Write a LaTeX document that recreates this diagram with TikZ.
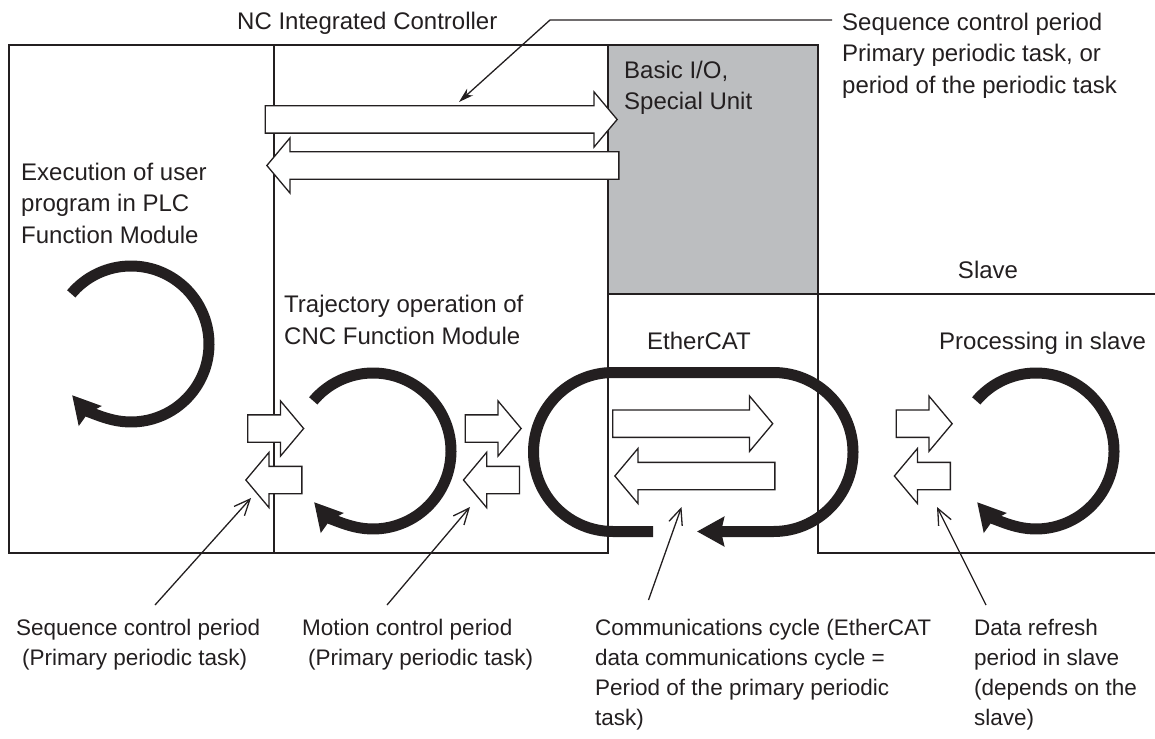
\documentclass[tikz,border=0pt]{standalone}
\usepackage{fontspec}
\setmainfont{Liberation Sans}
\usepackage{tikz}
\usetikzlibrary{arrows.meta,shapes.arrows,calc}
\definecolor{ink}{HTML}{231F20}
\definecolor{unitgray}{HTML}{BCBEC0}

\begin{document}
\begin{tikzpicture}[
  x=1pt,y=1pt,
  frame/.style={draw=ink,line width=1.8pt},
  blk/.style={single arrow,draw=ink,fill=white,line width=1.3pt,inner sep=0pt,text height=26pt,text depth=0pt,
    single arrow head extend=14pt,single arrow tip angle=100,single arrow head indent=0pt,anchor=tip},
  blkL/.style={blk,shape border rotate=180},
  cyc/.style={draw=ink,line width=11pt,-{Stealth[length=27pt,width=29pt,inset=3pt]}},
  lead/.style={draw=ink,line width=1.3pt,-{Straight Barb[length=16pt,width=14pt]}},
  leadf/.style={draw=ink,line width=1.3pt,-{Stealth[length=15pt,width=9pt]}},
  lbl/.style={align=left,inner sep=0pt,text=ink,font=\fontsize{24}{31.5}\selectfont},
  note/.style={lbl,font=\fontsize{22.5}{30}\selectfont}
]
\useasboundingbox (0,0) rectangle (1155,-738);
% controller frame
\fill[unitgray] (608,-45) rectangle (818,-294);
\draw[frame] (9,-45) rectangle (608,-553);
\draw[frame] (274,-45) -- (274,-553);
\draw[frame] (608,-45) rectangle (818,-294);
% EtherCAT and slave
\draw[frame] (608,-294) -- (1155,-294);
\draw[frame] (818,-294) -- (818,-553) -- (1155,-553);

% data exchange arrows
\node[blk,minimum height=352pt] (a1) at (618,-119.5) {};
\node[blkL,minimum height=352pt] (a2) at (266,-165.5) {};
\node[blk,minimum height=160pt] (d1) at (773.6,-423.7) {};
\node[blkL,minimum height=160pt] (d2) at (614,-476) {};
\foreach \n/\tx/\ty in {b1/304.5/-428.5,c1/522/-428.5,e1/953/-423.7}
  \node[blk,minimum height=56pt] (\n) at (\tx,\ty) {};
\foreach \n/\tx/\ty in {b2/245/-480,c2/462.6/-480,e2/893.5/-476}
  \node[blkL,minimum height=56pt] (\n) at (\tx,\ty) {};

% cycles
\coordinate (plc) at (131,-344);
\coordinate (cnc) at (373,-451);
\coordinate (slv) at (1036,-451);
\foreach \c in {plc,cnc,slv}
  \draw[cyc] ($(\c)+(140:78)$) arc[start angle=140,end angle=-139,radius=78];
\draw[cyc] (653,-531.5) -- (613,-531.5) arc[start angle=270,end angle=90,radius=79.5]
  -- (773.5,-372.5) arc[start angle=90,end angle=-90,radius=79.5] -- (697,-531.5);

% labels (base = last line)
\node[lbl,anchor=base west] (nc) at (237,-30) {NC Integrated Controller};
\node[lbl,anchor=base west] (seqtop) at (842,-93.5) {Sequence control period\\Primary periodic task, or\\period of the periodic task};
\node[lbl,anchor=base west] (bio) at (624,-110) {Basic I/O,\\Special Unit};
\node[lbl,anchor=base] (slave) at (988,-278) {Slave};
\node[lbl,anchor=base west] (exe) at (21,-243) {Execution of user\\program in PLC\\Function Module};
\node[lbl,anchor=base west] (traj) at (284,-344) {Trajectory operation of\\CNC Function Module};
\node[lbl,anchor=base] (ecat) at (699,-349) {EtherCAT};
\node[lbl,anchor=base west] (proc) at (939,-349) {Processing in slave};
\node[note,anchor=base west] (lseq) at (16,-665) {Sequence control period\\\hspace*{6pt}(Primary periodic task)};
\node[note,anchor=base west] (lmot) at (302,-665) {Motion control period\\\hspace*{6pt}(Primary periodic task)};
\node[note,anchor=base west] (lcom) at (595,-725) {Communications cycle (EtherCAT\\data communications cycle =\\Period of the primary periodic\\task)};
\node[note,anchor=base west] (ldat) at (974,-725) {Data refresh\\period in slave\\(depends on the\\slave)};

% leaders
\coordinate (q0) at (832,-20);
\coordinate (q1) at (550,-20);
\coordinate (q2) at (459,-102);
\draw[leadf] (q0) -- (q1) -- (q2);
\coordinate (s1) at (155,-605);   \coordinate (t1) at (251,-498);
\coordinate (s2) at (387,-605);   \coordinate (t2) at (470,-507);
\coordinate (s3) at (648.5,-600); \coordinate (t3) at (681.5,-507);
\coordinate (s4) at (986,-605);   \coordinate (t4) at (937,-507);
\foreach \i in {1,...,4}
  \draw[lead] (s\i) -- (t\i);
\end{tikzpicture}
\end{document}
